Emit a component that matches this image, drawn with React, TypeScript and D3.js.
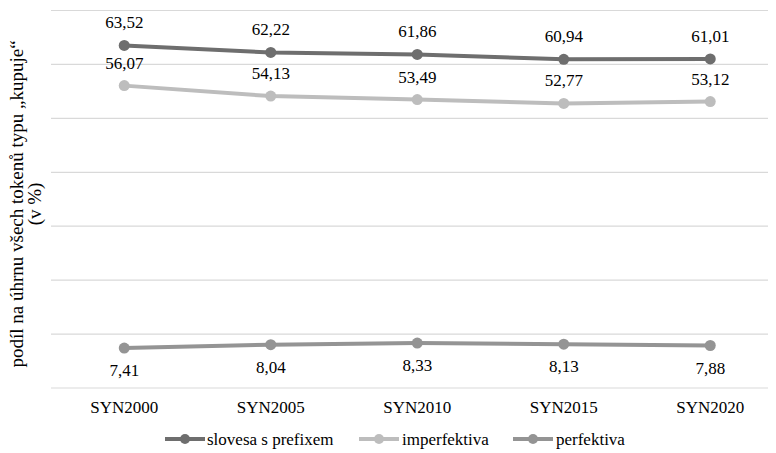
import React from "react";
import * as d3 from "d3";

const categories = ["SYN2000", "SYN2005", "SYN2010", "SYN2015", "SYN2020"];
const seriesNames = ["slovesa s prefixem", "imperfektiva", "perfektiva"];
const prefixed = [63.52, 62.22, 61.86, 60.94, 61.01];
const imperfective = [56.07, 54.13, 53.49, 52.77, 53.12];
const perfective = [7.41, 8.04, 8.33, 8.13, 7.88];
const yTicks = [0, 10, 20, 30, 40, 50, 60, 70];
const yTitleLines = ["podíl na úhrnu všech tokenů typu „kupuje“", "(v %)"];

const colors = ["#6e6e6e", "#bdbdbd", "#949494"];
const labelSide = ["above", "above", "below"];

const W = 776;
const H = 453;
const FONT = "Liberation Serif";

export default function App() {
  const plotLeft = 51;
  const plotRight = 783.5;
  const x = d3.scaleBand<string>().domain(categories).range([plotLeft, plotRight]);
  const y = d3.scaleLinear().domain([0, 70]).range([388, 10.5]);
  const cx = (c: string) => (x(c) as number) + x.bandwidth() / 2;

  const series = [prefixed, imperfective, perfective];
  const line = d3
    .line<number>()
    .x((_, i) => cx(categories[i]))
    .y((v) => y(v));

  const fmt = (v: number) => v.toFixed(2).replace(".", ",");

  const legendItems = [
    { lineX: 165, textX: 207 },
    { lineX: 359, textX: 402 },
    { lineX: 513, textX: 556 },
  ];
  const legendY = 439;

  return (
    <div style={{ margin: "-8px 0 0 -8px", width: W, height: H }}>
      <svg width={W} height={H} style={{ display: "block", fontFamily: `"${FONT}"` }}>
        <rect x={0} y={0} width={W} height={H} fill="#fff" />

        {/* horizontal gridlines */}
        {yTicks.map((t) => (
          <line
            key={t}
            x1={plotLeft}
            x2={W}
            y1={y(t)}
            y2={y(t)}
            stroke="#d9d9d9"
            strokeWidth={1.2}
          />
        ))}

        {/* y-axis title */}
        <g transform={`translate(0, 204) rotate(-90)`}>
          {yTitleLines.map((t, i) => (
            <text
              key={i}
              x={0}
              y={23 + i * 18}
              textAnchor="middle"
              fontSize={19}
              fill="#000"
              fontFamily={FONT}
              style={{ fontFamily: `"${FONT}"` }}
            >
              {t}
            </text>
          ))}
        </g>

        {/* category labels */}
        {categories.map((c) => (
          <text
            key={c}
            x={cx(c)}
            y={413}
            textAnchor="middle"
            fontSize={17}
            fill="#000"
            fontFamily={FONT}
            style={{ fontFamily: `"${FONT}"` }}
          >
            {c}
          </text>
        ))}

        {/* series lines, markers and value labels */}
        {series.map((vals, si) => (
          <g key={si}>
            <path d={line(vals) as string} fill="none" stroke={colors[si]} strokeWidth={4} strokeLinecap="round" />
            {vals.map((v, i) => (
              <circle key={i} cx={cx(categories[i])} cy={y(v)} r={5.5} fill={colors[si]} />
            ))}
            {vals.map((v, i) => (
              <text
                key={"l" + i}
                x={cx(categories[i])}
                y={labelSide[si] === "above" ? y(v) - 17 : y(v) + 28}
                textAnchor="middle"
                fontSize={17}
                fill="#000"
                fontFamily={FONT}
                style={{ fontFamily: `"${FONT}"` }}
              >
                {fmt(v)}
              </text>
            ))}
          </g>
        ))}

        {/* legend */}
        {seriesNames.map((name, i) => (
          <g key={name}>
            <line
              x1={legendItems[i].lineX}
              x2={legendItems[i].lineX + 40}
              y1={legendY}
              y2={legendY}
              stroke={colors[i]}
              strokeWidth={4}
            />
            <circle cx={legendItems[i].lineX + 20} cy={legendY} r={5} fill={colors[i]} />
            <text
              x={legendItems[i].textX}
              y={legendY + 5.5}
              fontSize={17}
              fill="#000"
              fontFamily={FONT}
              style={{ fontFamily: `"${FONT}"` }}
            >
              {name}
            </text>
          </g>
        ))}
      </svg>
    </div>
  );
}
